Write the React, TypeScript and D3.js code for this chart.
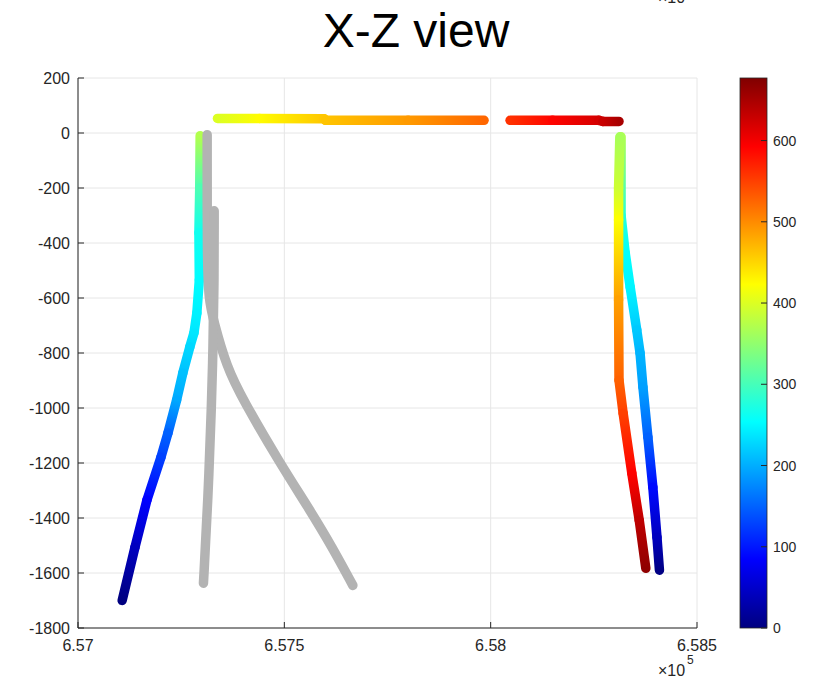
import React from 'react';
import * as d3 from 'd3';

const width = 813;
const height = 680;

// tracks: [easting, depth, colour value]
const leftWell: [number, number, number][] = [
  [657296, -10, 372], [657295, -200, 305], [657293, -363, 265], [657294, -534, 253],
  [657288, -655, 245], [657281, -727, 238], [657271, -778, 228], [657254, -873, 213],
  [657239, -971, 197], [657218, -1091, 150], [657201, -1179, 128], [657167, -1335, 85],
  [657138, -1507, 42], [657107, -1700, 0],
];
const topWest: [number, number, number][] = [
  [657338, 53, 400], [657440, 53, 425], [657596, 52, 460], [657600, 46, 462],
  [657800, 46, 490], [657984, 46, 525],
];
const topEast: [number, number, number][] = [
  [658047, 46, 560], [658150, 46, 590], [658262, 46, 620], [658272, 42, 628],
  [658311, 42, 650],
];
const rightBlue: [number, number, number][] = [
  [658316, -14, 370], [658316, -300, 280], [658326, -436, 255], [658338, -560, 248],
  [658354, -716, 218], [658362, -800, 205], [658369, -924, 191], [658381, -1106, 149],
  [658393, -1288, 90], [658403, -1470, 42], [658409, -1590, 3],
];
const rightRed: [number, number, number][] = [
  [658313, -14, 365], [658310, -200, 390], [658310, -316, 422], [658310, -607, 486],
  [658311, -899, 528], [658321, -1019, 550], [658342, -1237, 592], [658360, -1408, 635],
  [658376, -1583, 667],
];
const grayDiagonal: [number, number][] = [
  [657313, -6], [657313, -461], [657317, -607], [657328, -680], [657360, -851],
  [657400, -971], [657489, -1200], [657562, -1371], [657616, -1506], [657666, -1645],
];
const grayVertical: [number, number][] = [
  [657330, -283], [657330, -534], [657327, -789], [657324, -971], [657315, -1335],
  [657304, -1637],
];

const xTicks = [657000, 657500, 658000, 658500];
const xTickLabels = ['6.57', '6.575', '6.58', '6.585'];
const yTicks = [200, 0, -200, -400, -600, -800, -1000, -1200, -1400, -1600, -1800];
const cTicks = [0, 100, 200, 300, 400, 500, 600];
const cMax = 677;

const x = d3.scaleLinear().domain([657000, 658500]).range([78, 697]);
const y = d3.scaleLinear().domain([-1800, 200]).range([628, 78]);
const cy = d3.scaleLinear().domain([0, cMax]).range([628, 78]);

const clamp = (v: number) => Math.max(0, Math.min(1, v));
const jet = (v: number) => {
  const t = clamp(v / cMax);
  return d3.rgb(
    clamp(1.5 - Math.abs(4 * t - 3)) * 255,
    clamp(1.5 - Math.abs(4 * t - 2)) * 255,
    clamp(1.5 - Math.abs(4 * t - 1)) * 255
  ).formatHex();
};
const jetStops = [0, 0.125, 0.375, 0.625, 0.875, 1];

const font = '"Liberation Sans", Arial, Helvetica, sans-serif';
const axisColor = '#262626';
const lw = 9.5;

const coloured = [leftWell, topWest, topEast, rightBlue, rightRed];
const grays = [grayDiagonal, grayVertical];
const grayLine = d3.line<[number, number]>()
  .x(d => x(d[0]))
  .y(d => y(d[1]))
  .curve(d3.curveBasis);

export default function App() {
  const segs: { id: string; x1: number; y1: number; x2: number; y2: number; c1: string; c2: string }[] = [];
  coloured.forEach((track, ti) => {
    for (let i = 0; i < track.length - 1; i++) {
      const a = track[i];
      const b = track[i + 1];
      segs.push({
        id: `seg-${ti}-${i}`,
        x1: x(a[0]), y1: y(a[1]), x2: x(b[0]), y2: y(b[1]),
        c1: jet(a[2]), c2: jet(b[2]),
      });
    }
  });

  return (
    <svg width={width} height={height} style={{ position: 'absolute', left: 0, top: 0, background: '#fff' }}>
      <defs>
        <linearGradient id="jetbar" x1="0" y1="1" x2="0" y2="0">
          {jetStops.map(t => (
            <stop key={t} offset={t} stopColor={jet(t * cMax)} />
          ))}
        </linearGradient>
        {segs.map(s => (
          <linearGradient key={s.id} id={s.id} gradientUnits="userSpaceOnUse"
            x1={s.x1} y1={s.y1} x2={s.x2} y2={s.y2}>
            <stop offset="0" stopColor={s.c1} />
            <stop offset="1" stopColor={s.c2} />
          </linearGradient>
        ))}
      </defs>

      <text x={658} y={3} fontFamily={font} fontSize={16} fill={axisColor}>×10</text>

      <text x={416} y={47} textAnchor="middle" fontFamily={font} fontSize={48} fill="#000">X-Z view</text>

      {/* grid */}
      {yTicks.map(t => (
        <line key={`gy${t}`} x1={78} x2={697} y1={y(t)} y2={y(t)} stroke="#e6e6e6" strokeWidth={1} />
      ))}
      {xTicks.map(t => (
        <line key={`gx${t}`} x1={x(t)} x2={x(t)} y1={78} y2={628} stroke="#e6e6e6" strokeWidth={1} />
      ))}

      {/* tracks */}
      {segs.map(s => (
        <line key={s.id} x1={s.x1} y1={s.y1} x2={s.x2} y2={s.y2}
          stroke={`url(#${s.id})`} strokeWidth={lw} strokeLinecap="round" />
      ))}
      {grays.map((g, i) => (
        <path key={i} d={grayLine(g) || ''} fill="none" stroke="#b3b3b3" strokeWidth={lw}
          strokeLinecap="round" strokeLinejoin="round" />
      ))}

      {/* axes */}
      <line x1={78} x2={78} y1={78} y2={628} stroke={axisColor} strokeWidth={1} />
      <line x1={78} x2={697} y1={628} y2={628} stroke={axisColor} strokeWidth={1} />
      {yTicks.map(t => (
        <g key={`ty${t}`}>
          <line x1={78} x2={84} y1={y(t)} y2={y(t)} stroke={axisColor} />
          <text x={70} y={y(t) + 5.5} textAnchor="end" fontFamily={font} fontSize={16} fill={axisColor}>{t}</text>
        </g>
      ))}
      {xTicks.map((t, i) => (
        <g key={`tx${t}`}>
          <line x1={x(t)} x2={x(t)} y1={628} y2={622} stroke={axisColor} />
          <text x={x(t)} y={651} textAnchor="middle" fontFamily={font} fontSize={16} fill={axisColor}>{xTickLabels[i]}</text>
        </g>
      ))}
      <text x={658} y={676} fontFamily={font} fontSize={16} fill={axisColor}>×10</text>
      <text x={687} y={664} fontFamily={font} fontSize={12} fill={axisColor}>5</text>

      {/* colorbar */}
      <rect x={740} y={78} width={27} height={550} fill="url(#jetbar)" stroke={axisColor} strokeWidth={0.8} />
      {cTicks.map(t => (
        <g key={`tc${t}`}>
          <line x1={761} x2={767} y1={cy(t)} y2={cy(t)} stroke={axisColor} />
          <text x={773} y={cy(t) + 5} fontFamily={font} fontSize={14} fill={axisColor}>{t}</text>
        </g>
      ))}
    </svg>
  );
}
